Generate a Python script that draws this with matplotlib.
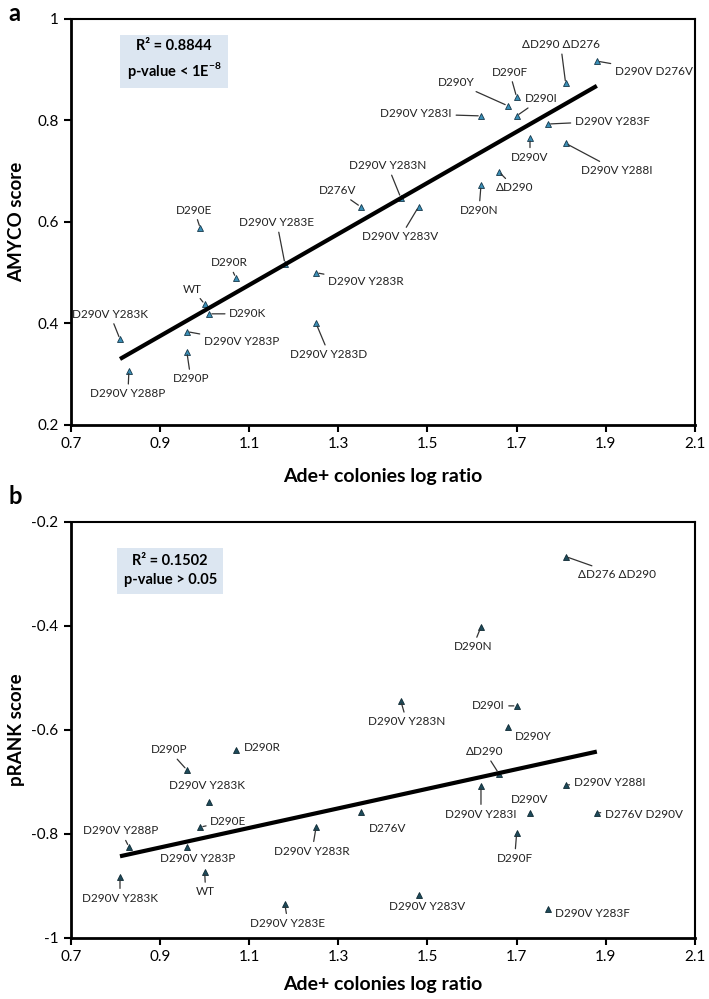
import numpy as np
import matplotlib
matplotlib.use("Agg")
import matplotlib.pyplot as plt
from matplotlib.ticker import FormatStrFormatter, FuncFormatter

plt.rcParams['font.family'] = ['Lato', 'DejaVu Sans']
plt.rcParams['axes.unicode_minus'] = False
plt.rcParams['mathtext.fontset'] = 'custom'
plt.rcParams['mathtext.rm'] = 'Lato'
plt.rcParams['mathtext.bf'] = 'Lato:bold'

# ---- panel a: AMYCO score ----
a_labels = ["D290V D276V", "\u0394D290 \u0394D276", "D290F", "D290Y", "D290I",
            "D290V Y283I", "D290V Y283F", "D290V", "D290V Y288I", "\u0394D290",
            "D290N", "D276V", "D290V Y283V", "D290V Y283N", "D290E",
            "D290V Y283E", "D290R", "D290V Y283R", "WT", "D290K",
            "D290V Y283K", "D290V Y283P", "D290P", "D290V Y288P", "D290V Y283D"]
a_x = [1.88, 1.81, 1.70, 1.68, 1.70, 1.62, 1.77, 1.73, 1.81, 1.66,
       1.62, 1.35, 1.48, 1.44, 0.99, 1.18, 1.07, 1.25, 1.00, 1.01,
       0.81, 0.96, 0.96, 0.83, 1.25]
a_y = [0.917, 0.873, 0.846, 0.829, 0.809, 0.809, 0.793, 0.765, 0.755, 0.699,
       0.672, 0.630, 0.630, 0.648, 0.588, 0.518, 0.490, 0.500, 0.438, 0.419,
       0.369, 0.384, 0.344, 0.307, 0.400]
a_trend = (0.503, -0.0774)   # slope, intercept of the published trend line

# ---- panel b: pRANK score ----
b_labels = ["\u0394D276 \u0394D290", "D290N", "D290V Y283N", "D290I", "D290Y",
            "\u0394D290", "D290V Y288I", "D290V", "D276V D290V", "D290V Y283I",
            "D290F", "D276V", "D290V Y283V", "D290V Y283F", "D290P",
            "D290R", "D290V Y283K", "D290E", "D290V Y288P", "D290V Y283P",
            "WT", "D290V Y283K", "D290V Y283E", "D290V Y283R"]
b_x = [1.81, 1.62, 1.44, 1.70, 1.68, 1.66, 1.81, 1.73, 1.88, 1.62,
       1.70, 1.35, 1.48, 1.77, 0.96, 1.07, 1.01, 0.99, 0.83, 0.96,
       1.00, 0.81, 1.18, 1.25]
b_y = [-0.267, -0.402, -0.544, -0.554, -0.595, -0.684, -0.706, -0.759, -0.759, -0.708,
       -0.799, -0.757, -0.917, -0.945, -0.677, -0.639, -0.738, -0.787, -0.825, -0.825,
       -0.873, -0.883, -0.935, -0.787]
b_trend = (0.188, -0.9953)

a_stats = ["R\u00b2 = 0.8844", r"p-value < 1E$^{\mathbf{-8}}$"]
b_stats = ["R\u00b2 = 0.1502", "p-value > 0.05"]

# label placement (offset in pixels from the point, horizontal alignment, draw leader line)
a_place = [(18, -10, 'left', True), (-5, 39, 'center', True), (-7, 25, 'center', True),
           (-33, 23, 'right', True), (8, 17, 'left', True), (-29, 2, 'right', True),
           (27, 3, 'left', True), (0, -19, 'center', True), (15, -27, 'left', True),
           (16, -16, 'center', True), (-2, -25, 'center', True), (-23, 16, 'center', True),
           (-18, -30, 'center', True), (-13, 32, 'center', True), (-6, 18, 'center', True),
           (-8, 41, 'center', True), (-7, 15, 'center', True), (12, -9, 'left', True),
           (-12, 15, 'center', True), (20, 0, 'left', True), (-10, 25, 'center', True),
           (17, -10, 'left', True), (4, -27, 'center', True), (-1, -23, 'center', True),
           (13, -31, 'center', True)]
b_place = [(12, -18, 'left', True), (-8, -20, 'center', True), (6, -21, 'center', True),
           (-12, 0, 'right', True), (7, -9, 'left', False), (-14, 22, 'center', True),
           (8, 2, 'left', True), (0, 13, 'center', False), (8, -2, 'left', True),
           (0, -28, 'center', True), (-2, -25, 'center', True), (27, -17, 'center', False),
           (9, -12, 'center', False), (7, -4, 'left', False), (-18, 20, 'center', True),
           (8, 3, 'left', False), (-2, 16, 'center', False), (10, 6, 'left', True),
           (-8, 16, 'center', True), (11, -12, 'center', False), (1, -20, 'center', True),
           (0, -21, 'center', True), (3, -19, 'center', True), (-4, -24, 'center', True)]


def draw_panel(ax, xs, ys, labels, place, stats, trend, ylabel, ylim, yticks,
               face, edge, box_xy, xlabel_y):
    xs = np.array(xs)
    ys = np.array(ys)
    ax.plot(xs, ys, linestyle='none', marker='^', markersize=5,
            markerfacecolor=face, markeredgecolor=edge, markeredgewidth=0.6, zorder=3)
    k, c = trend
    xl = np.array([xs.min(), xs.max()])
    ax.plot(xl, k * xl + c, color='black', lw=3, zorder=4, solid_capstyle='butt')

    for x, y, lab, (dx, dy, ha, lead) in zip(xs, ys, labels, place):
        props = dict(arrowstyle='-', lw=0.9, color='#333333', shrinkA=1, shrinkB=2) if lead else None
        ax.annotate(lab, (x, y), xytext=(dx, dy), textcoords='offset pixels',
                    ha=ha, va='center', fontsize=8.5, color='#222222',
                    arrowprops=props, zorder=5)

    ax.text(box_xy[0], box_xy[1], stats[0] + "\n" + stats[1], transform=ax.transAxes,
            ha='center', va='center', fontsize=10.5, fontweight='bold', linespacing=1.45,
            bbox=dict(boxstyle='square,pad=0.45', facecolor='#dce6f1', edgecolor='none'))

    ax.set_xlim(0.7, 2.1)
    ax.set_xticks([0.7, 0.9, 1.1, 1.3, 1.5, 1.7, 1.9, 2.1])
    ax.xaxis.set_major_formatter(FormatStrFormatter('%.1f'))
    ax.set_ylim(*ylim)
    ax.set_yticks(yticks)
    ax.yaxis.set_major_formatter(FuncFormatter(lambda v, p: ('%g' % round(v, 2))))
    ax.tick_params(direction='out', length=5, width=1.5, labelsize=11, pad=4)
    for side in ['left', 'bottom']:
        ax.spines[side].set_linewidth(2)
    for side in ['top', 'right']:
        ax.spines[side].set_linewidth(1.5)
    ax.set_ylabel(ylabel, fontsize=13.5, fontweight='bold')
    ax.set_xlabel("Ade+ colonies log ratio", fontsize=14, fontweight='bold')
    ax.yaxis.set_label_coords(-0.074, 0.5)
    ax.xaxis.set_label_coords(0.5, xlabel_y)


fig = plt.figure(figsize=(7.09, 9.99), dpi=100)
ax_a = fig.add_axes([0.1001, 0.5746, 0.880, 0.4064])
ax_b = fig.add_axes([0.1001, 0.0611, 0.880, 0.4167])

draw_panel(ax_a, a_x, a_y, a_labels, a_place, a_stats, a_trend, "AMYCO score",
           (0.2, 1.0), [0.2, 0.4, 0.6, 0.8, 1.0], '#3a8fb7', '#17384a', (0.165, 0.898), -0.106)
draw_panel(ax_b, b_x, b_y, b_labels, b_place, b_stats, b_trend, "pRANK score",
           (-1.0, -0.2), [-1.0, -0.8, -0.6, -0.4, -0.2], '#1d4a5a', '#0f2a33', (0.159, 0.882), -0.092)

fig.text(0.012, 0.986, "a", fontsize=17, fontweight='bold', va='center')
fig.text(0.012, 0.503, "b", fontsize=17, fontweight='bold', va='center')

fig.savefig("out.png", dpi=100)
